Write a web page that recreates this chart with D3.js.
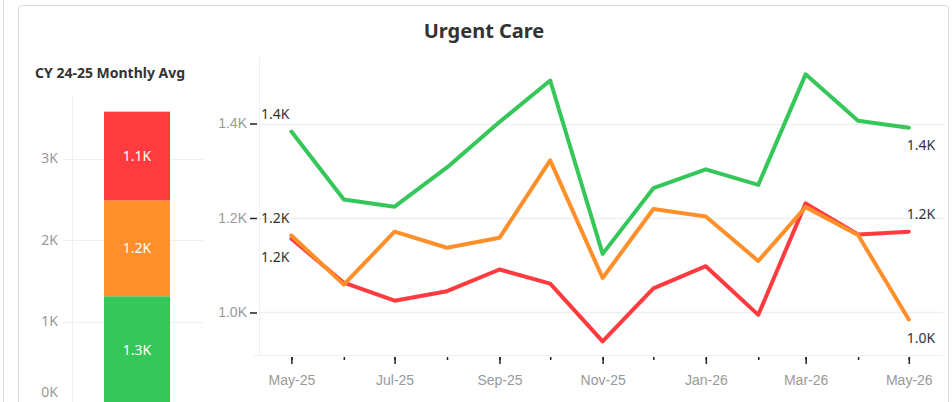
<!DOCTYPE html>
<html>
<head>
<meta charset="utf-8">
<script src="https://cdn.jsdelivr.net/npm/d3@7"></script>
<style>
    body { margin: 0; background: #fff; }
    svg { display: block; font-family: "Noto Sans", "Open Sans", sans-serif; }
</style>
</head>
<body>
<svg id="chart"></svg>
<script>
    // monthly visits, May-25 .. May-26
    var months = ["2025-05", "2025-06", "2025-07", "2025-08", "2025-09", "2025-10", "2025-11",
        "2025-12", "2026-01", "2026-02", "2026-03", "2026-04", "2026-05"];
    var greenValues = [1383, 1239, 1224, 1307, 1403, 1491, 1124, 1263, 1303, 1270, 1504, 1406, 1391];
    var orangeValues = [1163, 1059, 1171, 1137, 1158, 1322, 1073, 1219, 1203, 1109, 1223, 1164, 985];
    var redValues = [1156, 1063, 1025, 1045, 1091, 1061, 939, 1051, 1098, 995, 1231, 1165, 1171];

    // CY 24-25 monthly average, stacked bottom to top
    var avgCategories = ["green", "orange", "red"];
    var avgValues = [1310, 1175, 1090];

    var barTicks = [0, 1000, 2000, 3000];
    var lineTicks = [1000, 1200, 1400];

    var colors = {
        green: "#36c75a",
        orange: "#ff8f28",
        red: "#ff3b40"
    };

    var width = 952;
    var height = 402;

    var svg = d3.select("#chart")
        .attr("width", width)
        .attr("height", height);

    var fmtK = function (d) {
        return d3.format(".1f")(d / 1000) + "K";
    };

    // frame
    svg.append("line")
        .attr("x1", 3.5).attr("x2", 3.5)
        .attr("y1", 0).attr("y2", height)
        .attr("stroke", "#dcdcdc");

    svg.append("rect")
        .attr("x", 18.5).attr("y", 5.5)
        .attr("width", 930).attr("height", 430)
        .attr("rx", 3)
        .attr("fill", "none")
        .attr("stroke", "#dcdcdc");

    svg.append("text")
        .attr("x", 484).attr("y", 38)
        .attr("text-anchor", "middle")
        .style("font-size", "20px")
        .style("font-weight", "bold")
        .style("fill", "#333")
        .text("Urgent Care");

    // ---------- left: stacked average bar ----------
    svg.append("text")
        .attr("x", 35).attr("y", 78)
        .style("font-size", "14px")
        .style("font-weight", "bold")
        .style("fill", "#333")
        .text("CY 24-25 Monthly Avg");

    var yBar = d3.scaleLinear()
        .domain([0, 3750])
        .range([403, 97.4]);

    var barGrid = svg.append("g");
    barGrid.selectAll("line")
        .data(barTicks)
        .enter().append("line")
        .attr("x1", 63).attr("x2", 203)
        .attr("y1", function (d) { return Math.round(yBar(d)) + 0.5; })
        .attr("y2", function (d) { return Math.round(yBar(d)) + 0.5; })
        .attr("stroke", "#efefef");

    svg.append("line")
        .attr("x1", 72.5).attr("x2", 72.5)
        .attr("y1", 97).attr("y2", height)
        .attr("stroke", "#efefef");

    barGrid.selectAll("text")
        .data(barTicks)
        .enter().append("text")
        .attr("x", 58)
        .attr("y", function (d) { return Math.min(yBar(d), 392); })
        .attr("dy", "0.35em")
        .attr("text-anchor", "end")
        .style("font-size", "14px")
        .style("fill", "#999")
        .text(function (d) { return (d / 1000) + "K"; });

    var stacked = [];
    var base = 0;
    avgValues.forEach(function (v, i) {
        stacked.push({ key: avgCategories[i], y0: base, y1: base + v, value: v });
        base += v;
    });

    var seg = svg.selectAll(".seg")
        .data(stacked)
        .enter().append("g")
        .attr("class", "seg");

    seg.append("rect")
        .attr("x", 104)
        .attr("width", 66)
        .attr("y", function (d) { return yBar(d.y1); })
        .attr("height", function (d) { return yBar(d.y0) - yBar(d.y1); })
        .attr("fill", function (d) { return colors[d.key]; });

    seg.append("text")
        .attr("x", 137)
        .attr("y", function (d) { return (yBar(d.y0) + yBar(d.y1)) / 2; })
        .attr("dy", "0.35em")
        .attr("text-anchor", "middle")
        .style("font-size", "14px")
        .style("fill", "#fff")
        .text(function (d) { return fmtK(d.value); });

    // ---------- right: monthly lines ----------
    var parseMonth = d3.timeParse("%Y-%m");
    var dates = months.map(parseMonth);

    var x = d3.scaleTime()
        .domain([dates[0], dates[dates.length - 1]])
        .range([291.4, 908.8]);

    var y = d3.scaleLinear()
        .domain([910, 1545])
        .range([355, 55]);

    svg.append("g").selectAll("line")
        .data(lineTicks)
        .enter().append("line")
        .attr("x1", 259).attr("x2", 943)
        .attr("y1", function (d) { return Math.round(y(d)) + 0.5; })
        .attr("y2", function (d) { return Math.round(y(d)) + 0.5; })
        .attr("stroke", "#efefef")
        .attr("stroke-width", 1.5);

    svg.append("line")
        .attr("x1", 259.5).attr("x2", 259.5)
        .attr("y1", 57).attr("y2", 355)
        .attr("stroke", "#efefef");

    svg.append("line")
        .attr("x1", 254).attr("x2", 943)
        .attr("y1", 355.5).attr("y2", 355.5)
        .attr("stroke", "#efefef");

    var yAxis = svg.append("g")
        .attr("transform", "translate(257,0)")
        .call(d3.axisLeft(y).tickValues(lineTicks).tickSize(7).tickPadding(3).tickFormat(fmtK));
    yAxis.select(".domain").remove();
    yAxis.selectAll(".tick line").attr("stroke", "#222").attr("stroke-width", 1.5);
    yAxis.selectAll(".tick text")
        .style("font-size", "14px")
        .style("font-family", "inherit")
        .style("fill", "#999");

    var xMinor = svg.append("g")
        .attr("transform", "translate(0,357)")
        .call(d3.axisBottom(x).ticks(d3.timeMonth.every(1)).tickSize(3).tickFormat(""));
    xMinor.select(".domain").remove();
    xMinor.selectAll(".tick line").attr("stroke", "#222").attr("stroke-width", 1.5);

    var xAxis = svg.append("g")
        .attr("transform", "translate(0,357)")
        .call(d3.axisBottom(x).ticks(d3.timeMonth.every(2)).tickSize(7).tickPadding(11)
            .tickFormat(d3.timeFormat("%b-%y")));
    xAxis.select(".domain").remove();
    xAxis.selectAll(".tick line").attr("stroke", "#222").attr("stroke-width", 1.5);
    xAxis.selectAll(".tick text")
        .style("font-size", "14px")
        .style("font-family", "inherit")
        .style("fill", "#999");

    var series = [
        { key: "green", values: greenValues, startDy: -13, endDy: 22 },
        { key: "red", values: redValues, startDy: 23, endDy: -13 },
        { key: "orange", values: orangeValues, startDy: -12, endDy: 23 }
    ];

    var line = d3.line()
        .x(function (d, i) { return x(dates[i]); })
        .y(function (d) { return y(d); });

    svg.selectAll(".series")
        .data(series)
        .enter().append("path")
        .attr("class", "series")
        .attr("d", function (d) { return line(d.values); })
        .attr("fill", "none")
        .attr("stroke", function (d) { return colors[d.key]; })
        .attr("stroke-width", 4)
        .attr("stroke-linejoin", "round")
        .attr("stroke-linecap", "round");

    var last = dates.length - 1;

    // first and last point labels
    svg.selectAll(".startLabel")
        .data(series)
        .enter().append("text")
        .attr("class", "startLabel")
        .attr("x", x(dates[0]) - 2)
        .attr("y", function (d) { return y(d.values[0]) + d.startDy; })
        .attr("text-anchor", "end")
        .style("font-size", "14px")
        .style("fill", "#333")
        .text(function (d) { return fmtK(d.values[0]); });

    svg.selectAll(".endLabel")
        .data(series)
        .enter().append("text")
        .attr("class", "endLabel")
        .attr("x", x(dates[last]) - 2)
        .attr("y", function (d) { return y(d.values[last]) + d.endDy; })
        .attr("text-anchor", "start")
        .style("font-size", "14px")
        .style("fill", "#333")
        .text(function (d) { return fmtK(d.values[last]); });
</script>
</body>
</html>
